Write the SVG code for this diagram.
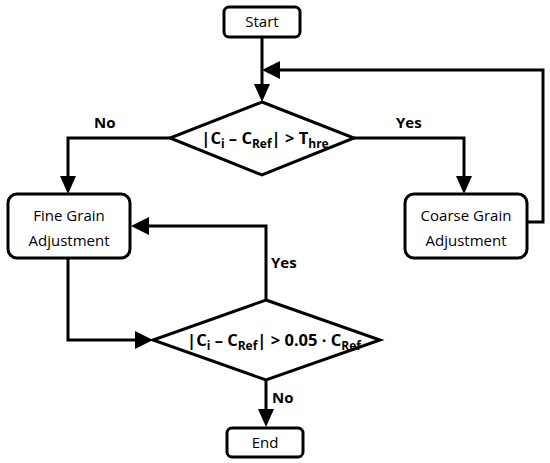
<svg xmlns="http://www.w3.org/2000/svg" width="550" height="463" viewBox="0 0 550 463">
<defs>
<style>
.box{fill:#fff;stroke:#000;stroke-width:3}
.ln{fill:none;stroke:#000;stroke-width:3}
.t{font-family:"Open Sans","Noto Sans",sans-serif;font-size:15px;fill:#000;text-anchor:middle}
.b{font-family:"Open Sans","Noto Sans",sans-serif;font-size:15px;font-weight:bold;fill:#000}
.d{font-family:"Open Sans","Noto Sans",sans-serif;font-size:16.5px;font-weight:bold;fill:#000;text-anchor:middle}
.s{font-size:12px}
</style>
</defs>
<g id="connectors">
<path class="ln" d="M262,37 V86"/>
<path d="M254,84 L270,84 L262,102 Z"/>
<path class="ln" d="M527,222 H543 V70 H280"/>
<path d="M280,61 L280,79 L262,70 Z"/>
<path class="ln" d="M170,138 H68 V178"/>
<path d="M60,176 L76,176 L68,194 Z"/>
<path class="ln" d="M354,138 H464 V178"/>
<path d="M456,176 L472,176 L464,194 Z"/>
<path class="ln" d="M266,300 V226 H148"/>
<path d="M149,217 L149,235 L131,226 Z"/>
<path class="ln" d="M68,258 V340 H136"/>
<path d="M135,331 L135,349 L153,340 Z"/>
<path class="ln" d="M266,380 V410"/>
<path d="M258,409 L274,409 L266,427 Z"/>
</g>
<g id="labels">
<text class="b" x="94" y="128">No</text>
<text class="b" x="396" y="128">Yes</text>
<text class="b" x="271" y="268">Yes</text>
<text class="b" x="272" y="403">No</text>
</g>
<g id="start">
<rect class="box" x="224" y="7" width="76" height="30" rx="5"/>
<text class="t" x="262" y="27">Start</text>
</g>
<g id="decision1">
<polygon class="box" points="262,102 354,138 262,175 170,138"/>
<text class="d" x="265" y="144">|C<tspan class="s" dy="4">i</tspan><tspan dy="-4"> – C</tspan><tspan class="s" dy="4">Ref</tspan><tspan dy="-4">| &gt; T</tspan><tspan class="s" dy="4">hre</tspan></text>
</g>
<g id="fine">
<rect class="box" x="8" y="194" width="122" height="64" rx="9"/>
<text class="t" x="69" y="221">Fine Grain</text>
<text class="t" x="69" y="246">Adjustment</text>
</g>
<g id="coarse">
<rect class="box" x="405" y="194" width="122" height="64" rx="9"/>
<text class="t" x="466" y="221">Coarse Grain</text>
<text class="t" x="466" y="246">Adjustment</text>
</g>
<g id="decision2">
<polygon class="box" points="266,300 380,340 266,380 153,340"/>
<text class="d" x="274" y="346">|C<tspan class="s" dy="4">i</tspan><tspan dy="-4"> – C</tspan><tspan class="s" dy="4">Ref</tspan><tspan dy="-4">| &gt; 0.05 · C</tspan><tspan class="s" dy="4">Ref</tspan></text>
</g>
<g id="end">
<rect class="box" x="227" y="428" width="76" height="29" rx="5"/>
<text class="t" x="265" y="448">End</text>
</g>
</svg>
